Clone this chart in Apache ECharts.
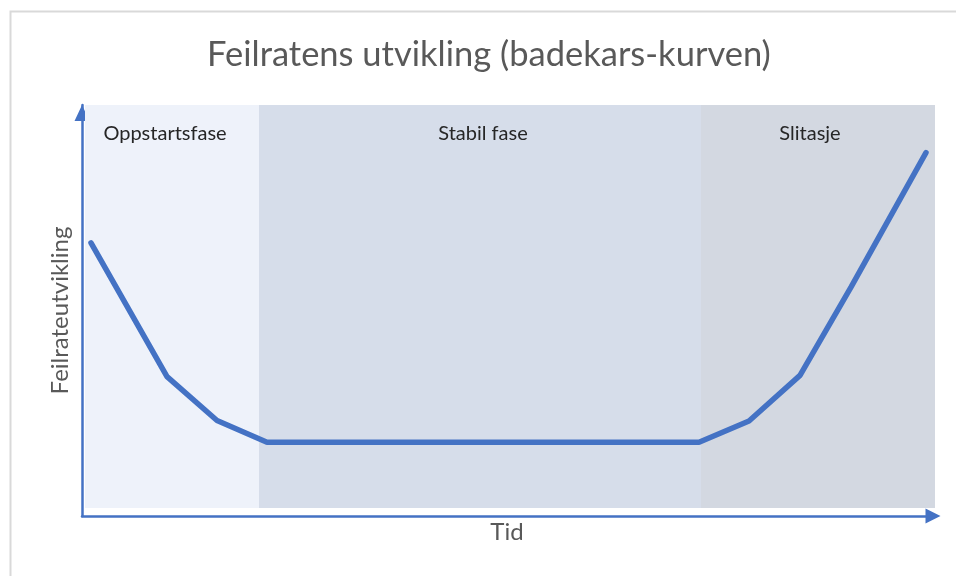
<!DOCTYPE html>
<html>
<head>
<meta charset="utf-8">
<title>Feilratens utvikling</title>
<script src="https://cdn.jsdelivr.net/npm/echarts@6/dist/echarts.min.js"></script>
<style>
    html, body {margin: 0; padding: 0; background: #fff;}
    .chart_main {width: 956px; height: 576px;}
</style>
</head>
<body>
<div class="chart_main"></div>
<script>
// tid (x) og feilrate (y) for badekarskurven
var timeX = [0.12, 1.64, 2.64, 3.64, 12.28, 13.28, 14.3, 15.32, 16.82];
var rateY = [65.8, 32.6, 21.7, 16.3, 16.3, 21.6, 32.9, 54.8, 88.2];

// fasene langs tidsaksen
var phaseNames = ['Oppstartsfase', 'Stabil fase', 'Slitasje'];
var phaseStart = [0, 3.48, 12.32];
var phaseEnd = [3.48, 12.32, 17];

// farger og små forskyvninger på fase-etikettene
var phaseStyle = [
    {color: '#EEF2FA', dx: -7},
    {color: '#D6DDEA', dx: 3},
    {color: '#D3D8E1', dx: -8}
];

var font = 'Lato, "Open Sans", sans-serif';

var chart_main = echarts.init(document.querySelector(".chart_main"));

var lineData = timeX.map(function (x, i) {
    return [x, rateY[i]];
});

var bands = phaseNames.map(function (name, i) {
    return [
        {
            name: name,
            xAxis: phaseStart[i],
            itemStyle: {color: phaseStyle[i].color},
            label: {offset: [phaseStyle[i].dx, 0]}
        },
        {xAxis: phaseEnd[i]}
    ];
});

var option = {
    backgroundColor: '#fff',
    animation: false,
    //tittel
    title: {
        text: 'Feilratens utvikling (badekars-kurven)',
        left: 202,
        top: 32,
        textStyle: {
            fontFamily: font,
            fontSize: 34.5,
            fontWeight: 'normal',
            color: '#595959'
        }
    },
    //ramme rundt diagrammet
    graphic: [{
        type: 'rect',
        left: 8,
        top: 9,
        z: -10,
        shape: {width: 970, height: 590},
        style: {fill: 'none', stroke: '#D9D9D9', lineWidth: 2}
    }],
    //grid 0: plottet, grid 1: aksene med piler
    grid: [
        {left: 85, right: 21, top: 105, bottom: 68},
        {left: 82, right: 24, top: 105, bottom: 60}
    ],
    xAxis: [
        {gridIndex: 0, type: 'value', min: 0, max: 17, show: false},
        {
            gridIndex: 1, type: 'value', min: 0, max: 1,
            name: 'Tid',
            nameLocation: 'middle',
            nameGap: 4,
            nameTextStyle: {fontFamily: font, fontSize: 24, color: '#595959', verticalAlign: 'top'},
            axisLine: {
                show: true,
                symbol: ['none', 'triangle'],
                symbolSize: [15, 15],
                symbolOffset: [0, 1],
                lineStyle: {color: '#4472C4', width: 2.5}
            },
            axisTick: {show: false},
            axisLabel: {show: false},
            splitLine: {show: false}
        }
    ],
    yAxis: [
        {gridIndex: 0, type: 'value', min: 0, max: 100, show: false},
        {
            gridIndex: 1, type: 'value', min: 0, max: 1,
            name: 'Feilrateutvikling',
            nameLocation: 'middle',
            nameGap: 10,
            nameTextStyle: {fontFamily: font, fontSize: 24, color: '#595959'},
            axisLine: {
                show: true,
                symbol: ['none', 'triangle'],
                symbolSize: [15, 16],
                symbolOffset: [0, -8],
                lineStyle: {color: '#4472C4', width: 2.5}
            },
            axisTick: {show: false},
            axisLabel: {show: false},
            splitLine: {show: false}
        }
    ],
    series: [{
        name: 'Feilrate',
        type: 'line',
        xAxisIndex: 0,
        yAxisIndex: 0,
        data: lineData,
        symbol: 'none',
        lineStyle: {color: '#4472C4', width: 5.5, cap: 'round'},
        //bakgrunn for fasene
        markArea: {
            silent: true,
            label: {
                show: true,
                position: 'insideTop',
                distance: 19,
                fontFamily: font,
                fontSize: 20,
                color: '#262626'
            },
            data: bands
        }
    }]
};

chart_main.setOption(option);
</script>
</body>
</html>
